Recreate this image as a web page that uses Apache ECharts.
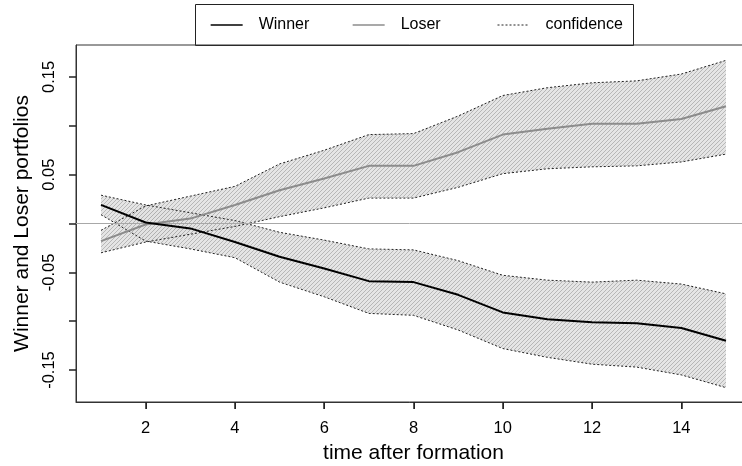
<!DOCTYPE html>
<html>
<head>
<meta charset="utf-8">
<script src="https://cdn.jsdelivr.net/npm/echarts@6/dist/echarts.min.js"></script>
<style>html,body{margin:0;padding:0;background:#fff}#c{width:742px;height:466px}</style>
</head>
<body>
<div id="c"></div>
<script>
const times = [1,2,3,4,5,6,7,8,9,10,11,12,13,14,15];
const winner      = [0.019, 0.001, -0.005, -0.019, -0.034, -0.046, -0.059, -0.060, -0.073, -0.091, -0.098, -0.101, -0.102, -0.107, -0.120];
const winnerUpper = [0.029, 0.019, 0.011, 0.003, -0.009, -0.017, -0.026, -0.027, -0.038, -0.053, -0.058, -0.060, -0.058, -0.062, -0.072];
const winnerLower = [0.009, -0.018, -0.026, -0.035, -0.060, -0.075, -0.092, -0.094, -0.109, -0.128, -0.137, -0.144, -0.147, -0.155, -0.168];
const loser       = [-0.018, -0.001, 0.005, 0.019, 0.034, 0.046, 0.059, 0.059, 0.073, 0.091, 0.097, 0.102, 0.102, 0.107, 0.120];
const loserUpper  = [-0.007, 0.018, 0.028, 0.038, 0.061, 0.075, 0.091, 0.092, 0.110, 0.131, 0.139, 0.144, 0.146, 0.153, 0.167];
const loserLower  = [-0.030, -0.019, -0.011, -0.003, 0.007, 0.016, 0.026, 0.026, 0.037, 0.051, 0.056, 0.058, 0.059, 0.063, 0.071];
const xTicks = [2,4,6,8,10,12,14];
const yTicks = [-0.15,-0.10,-0.05,0,0.05,0.10,0.15];
const yLabels = [-0.15,-0.05,0.05,0.15];
const xRange = [0.44, 15.56];
const yRange = [-0.1827, 0.1827];

const pair = arr => times.map((t,i)=>[t, arr[i]]);
const bands = [[winnerLower, winnerUpper], [loserLower, loserUpper]];

// hatch pattern
const pc = document.createElement('canvas');
pc.width = 4; pc.height = 4;
const g = pc.getContext('2d');
g.fillStyle = '#e3e3e3'; g.fillRect(0,0,4,4);
g.strokeStyle = '#b0b0b0'; g.lineWidth = 1;
g.beginPath();
g.moveTo(0,4); g.lineTo(4,0);
g.moveTo(-1,1); g.lineTo(1,-1);
g.moveTo(3,5); g.lineTo(5,3);
g.stroke();
const hatch = {image: pc, repeat: 'repeat'};

const FONT = 'Liberation Sans, Arial, sans-serif';
const dotted = {color:'#222', width:1, type:[2,2]};

function legendAt(left, name, lineStyle) {
  return {
    left:left, top:17, padding:0, orient:'horizontal',
    itemWidth:32, itemHeight:14,
    textStyle:{fontFamily:FONT, fontSize:16, color:'#000', padding:[0,0,0,11]},
    data:[{name:name, lineStyle:lineStyle, itemStyle:{opacity:0}}]
  };
}

const chart = echarts.init(document.getElementById('c'), null, {renderer:'canvas'});
chart.setOption({
  animation: false,
  textStyle: {fontFamily: FONT, color:'#000'},
  grid: {left:76, top:45, width:675, height:357, show:true, borderColor:'#333', borderWidth:1,
    backgroundColor:'transparent', containLabel:false, outerBoundsMode:'none'},
  graphic: [{type:'rect', left:195, top:4, shape:{x:0, y:0, width:438, height:41}, style:{fill:'#fff', stroke:'#222', lineWidth:1}, z:-1, silent:true}],
  legend: [
    legendAt(210, 'Winner', {width:1.3, color:'#000'}),
    legendAt(352, 'Loser', {width:1.3, color:'#8c8c8c'}),
    legendAt(497, 'confidence', {width:1, color:'#222', type:[2,2]})
  ],
  xAxis: {
    type:'value', min:xRange[0], max:xRange[1], position:'bottom',
    name:'time after formation', nameLocation:'middle', nameGap:41,
    nameTextStyle:{fontFamily:FONT, fontSize:21, color:'#000'},
    axisLine:{show:true, onZero:false, lineStyle:{color:'#333', width:1}},
    axisTick:{show:true, inside:false, length:7, lineStyle:{color:'#222', width:1.5}, customValues:xTicks},
    axisLabel:{fontFamily:FONT, fontSize:16.5, color:'#000', margin:18, customValues:xTicks},
    splitLine:{show:false}
  },
  yAxis: {
    type:'value', min:yRange[0], max:yRange[1], position:'left',
    name:'Winner and Loser portfolios', nameLocation:'middle', nameGap:43, nameRotate:90,
    nameTextStyle:{fontFamily:FONT, fontSize:21, color:'#000'},
    axisLine:{show:true, onZero:false, lineStyle:{color:'#333', width:1}},
    axisTick:{show:true, inside:false, length:7, lineStyle:{color:'#222', width:1.5}, customValues:yTicks},
    axisLabel:{fontFamily:FONT, fontSize:16.5, color:'#000', rotate:90, margin:18, customValues:yLabels,
      formatter: v => v.toFixed(2)},
    splitLine:{show:false}
  },
  series: [
    {name:'bands', type:'custom', silent:true, z:1,
      data: bands.map((b,i)=>[times[0], b[0][0], i]),
      encode:{x:0, y:1},
      renderItem: function(params, api) {
        const b = bands[params.dataIndex];
        const pts = [];
        for (let i=0;i<times.length;i++) pts.push(api.coord([times[i], b[1][i]]));
        for (let i=times.length-1;i>=0;i--) pts.push(api.coord([times[i], b[0][i]]));
        return {type:'polygon', shape:{points:pts}, style:{fill:hatch, opacity:0.9}};
      },
      markLine:{silent:true, symbol:'none', label:{show:false}, lineStyle:{color:'#a8a8a8', width:1, type:'solid'}, data:[{yAxis:0}]}
    },
    {name:'xTickMarks', type:'custom', silent:true, clip:false, z:6,
      data: xTicks.map(v=>[v, yRange[0]]),
      encode:{x:0, y:1},
      renderItem: function(params, api) {
        const p = api.coord([api.value(0), yRange[0]]);
        const x = Math.round(p[0]) + 0.5;
        return {type:'line', shape:{x1:x, y1:p[1], x2:x, y2:p[1]+7}, style:{stroke:'#222', lineWidth:1}};
      }
    },
    {name:'confidence', type:'line', data:pair(winnerUpper), symbol:'none', lineStyle:dotted, itemStyle:{color:'#222'}, z:3},
    {name:'confidence', type:'line', data:pair(winnerLower), symbol:'none', lineStyle:dotted, itemStyle:{color:'#222'}, z:3},
    {name:'confidence', type:'line', data:pair(loserUpper), symbol:'none', lineStyle:dotted, itemStyle:{color:'#222'}, z:3},
    {name:'confidence', type:'line', data:pair(loserLower), symbol:'none', lineStyle:dotted, itemStyle:{color:'#222'}, z:3},
    {name:'Loser', type:'line', data:pair(loser), symbol:'none', lineStyle:{color:'#8c8c8c', width:2}, itemStyle:{color:'#8c8c8c'}, z:4},
    {name:'Winner', type:'line', data:pair(winner), symbol:'none', lineStyle:{color:'#000', width:2}, itemStyle:{color:'#000'}, z:5}
  ]
});
</script>
</body>
</html>
